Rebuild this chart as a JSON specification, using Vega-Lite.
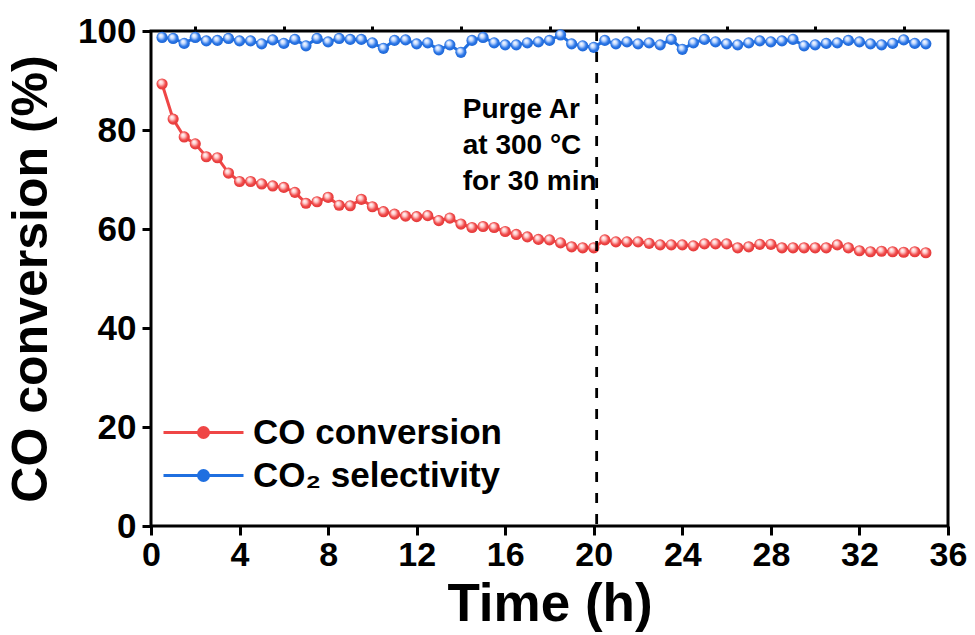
{
  "$schema": "https://vega.github.io/schema/vega-lite/v6.json",
  "width": 797,
  "height": 495,
  "autosize": "none",
  "padding": {"left": 151, "top": 31, "right": 27, "bottom": 109},
  "background": "white",
  "config": {
    "view": {"stroke": "black", "strokeWidth": 3},
    "font": "Liberation Sans"
  },
  "data": {"values": [
    {"t":0.5,"v":89.3,"s":"CO conversion"},{"t":1,"v":82.2,"s":"CO conversion"},{"t":1.5,"v":78.6,"s":"CO conversion"},{"t":2,"v":77.2,"s":"CO conversion"},{"t":2.5,"v":74.6,"s":"CO conversion"},{"t":3,"v":74.4,"s":"CO conversion"},{"t":3.5,"v":71.3,"s":"CO conversion"},{"t":4,"v":69.6,"s":"CO conversion"},{"t":4.5,"v":69.6,"s":"CO conversion"},{"t":5,"v":69.1,"s":"CO conversion"},
    {"t":5.5,"v":68.7,"s":"CO conversion"},{"t":6,"v":68.4,"s":"CO conversion"},{"t":6.5,"v":67.4,"s":"CO conversion"},{"t":7,"v":65.2,"s":"CO conversion"},{"t":7.5,"v":65.5,"s":"CO conversion"},{"t":8,"v":66.4,"s":"CO conversion"},{"t":8.5,"v":64.8,"s":"CO conversion"},{"t":9,"v":64.7,"s":"CO conversion"},{"t":9.5,"v":66.0,"s":"CO conversion"},{"t":10,"v":64.5,"s":"CO conversion"},
    {"t":10.5,"v":63.5,"s":"CO conversion"},{"t":11,"v":63.0,"s":"CO conversion"},{"t":11.5,"v":62.6,"s":"CO conversion"},{"t":12,"v":62.5,"s":"CO conversion"},{"t":12.5,"v":62.7,"s":"CO conversion"},{"t":13,"v":61.7,"s":"CO conversion"},{"t":13.5,"v":62.2,"s":"CO conversion"},{"t":14,"v":61.0,"s":"CO conversion"},{"t":14.5,"v":60.3,"s":"CO conversion"},{"t":15,"v":60.5,"s":"CO conversion"},
    {"t":15.5,"v":60.3,"s":"CO conversion"},{"t":16,"v":59.5,"s":"CO conversion"},{"t":16.5,"v":58.9,"s":"CO conversion"},{"t":17,"v":58.4,"s":"CO conversion"},{"t":17.5,"v":57.9,"s":"CO conversion"},{"t":18,"v":57.8,"s":"CO conversion"},{"t":18.5,"v":57.2,"s":"CO conversion"},{"t":19,"v":56.4,"s":"CO conversion"},{"t":19.5,"v":56.2,"s":"CO conversion"},{"t":20,"v":56.2,"s":"CO conversion"},
    {"t":20.5,"v":57.8,"s":"CO conversion"},{"t":21,"v":57.4,"s":"CO conversion"},{"t":21.5,"v":57.4,"s":"CO conversion"},{"t":22,"v":57.4,"s":"CO conversion"},{"t":22.5,"v":57.1,"s":"CO conversion"},{"t":23,"v":56.8,"s":"CO conversion"},{"t":23.5,"v":56.8,"s":"CO conversion"},{"t":24,"v":56.8,"s":"CO conversion"},{"t":24.5,"v":56.6,"s":"CO conversion"},{"t":25,"v":57.0,"s":"CO conversion"},
    {"t":25.5,"v":57.0,"s":"CO conversion"},{"t":26,"v":57.0,"s":"CO conversion"},{"t":26.5,"v":56.2,"s":"CO conversion"},{"t":27,"v":56.4,"s":"CO conversion"},{"t":27.5,"v":56.9,"s":"CO conversion"},{"t":28,"v":56.9,"s":"CO conversion"},{"t":28.5,"v":56.2,"s":"CO conversion"},{"t":29,"v":56.2,"s":"CO conversion"},{"t":29.5,"v":56.2,"s":"CO conversion"},{"t":30,"v":56.2,"s":"CO conversion"},
    {"t":30.5,"v":56.2,"s":"CO conversion"},{"t":31,"v":56.8,"s":"CO conversion"},{"t":31.5,"v":56.2,"s":"CO conversion"},{"t":32,"v":55.6,"s":"CO conversion"},{"t":32.5,"v":55.4,"s":"CO conversion"},{"t":33,"v":55.5,"s":"CO conversion"},{"t":33.5,"v":55.4,"s":"CO conversion"},{"t":34,"v":55.3,"s":"CO conversion"},{"t":34.5,"v":55.4,"s":"CO conversion"},{"t":35,"v":55.2,"s":"CO conversion"},
    {"t":0.5,"v":98.7,"s":"CO₂ selectivity"},{"t":1,"v":98.5,"s":"CO₂ selectivity"},{"t":1.5,"v":97.5,"s":"CO₂ selectivity"},{"t":2,"v":98.7,"s":"CO₂ selectivity"},{"t":2.5,"v":98.0,"s":"CO₂ selectivity"},{"t":3,"v":98.1,"s":"CO₂ selectivity"},{"t":3.5,"v":98.5,"s":"CO₂ selectivity"},{"t":4,"v":98.0,"s":"CO₂ selectivity"},{"t":4.5,"v":98.0,"s":"CO₂ selectivity"},{"t":5,"v":97.4,"s":"CO₂ selectivity"},
    {"t":5.5,"v":98.2,"s":"CO₂ selectivity"},{"t":6,"v":97.5,"s":"CO₂ selectivity"},{"t":6.5,"v":98.3,"s":"CO₂ selectivity"},{"t":7,"v":97.0,"s":"CO₂ selectivity"},{"t":7.5,"v":98.5,"s":"CO₂ selectivity"},{"t":8,"v":97.8,"s":"CO₂ selectivity"},{"t":8.5,"v":98.5,"s":"CO₂ selectivity"},{"t":9,"v":98.3,"s":"CO₂ selectivity"},{"t":9.5,"v":98.3,"s":"CO₂ selectivity"},{"t":10,"v":97.6,"s":"CO₂ selectivity"},
    {"t":10.5,"v":96.5,"s":"CO₂ selectivity"},{"t":11,"v":98.1,"s":"CO₂ selectivity"},{"t":11.5,"v":98.2,"s":"CO₂ selectivity"},{"t":12,"v":97.4,"s":"CO₂ selectivity"},{"t":12.5,"v":97.6,"s":"CO₂ selectivity"},{"t":13,"v":96.2,"s":"CO₂ selectivity"},{"t":13.5,"v":97.2,"s":"CO₂ selectivity"},{"t":14,"v":95.7,"s":"CO₂ selectivity"},{"t":14.5,"v":98.1,"s":"CO₂ selectivity"},{"t":15,"v":98.7,"s":"CO₂ selectivity"},
    {"t":15.5,"v":97.6,"s":"CO₂ selectivity"},{"t":16,"v":97.2,"s":"CO₂ selectivity"},{"t":16.5,"v":97.2,"s":"CO₂ selectivity"},{"t":17,"v":97.6,"s":"CO₂ selectivity"},{"t":17.5,"v":97.8,"s":"CO₂ selectivity"},{"t":18,"v":98.1,"s":"CO₂ selectivity"},{"t":18.5,"v":99.2,"s":"CO₂ selectivity"},{"t":19,"v":97.4,"s":"CO₂ selectivity"},{"t":19.5,"v":97.0,"s":"CO₂ selectivity"},{"t":20,"v":96.7,"s":"CO₂ selectivity"},
    {"t":20.5,"v":98.1,"s":"CO₂ selectivity"},{"t":21,"v":97.4,"s":"CO₂ selectivity"},{"t":21.5,"v":97.8,"s":"CO₂ selectivity"},{"t":22,"v":97.4,"s":"CO₂ selectivity"},{"t":22.5,"v":97.6,"s":"CO₂ selectivity"},{"t":23,"v":97.2,"s":"CO₂ selectivity"},{"t":23.5,"v":98.3,"s":"CO₂ selectivity"},{"t":24,"v":96.3,"s":"CO₂ selectivity"},{"t":24.5,"v":97.6,"s":"CO₂ selectivity"},{"t":25,"v":98.3,"s":"CO₂ selectivity"},
    {"t":25.5,"v":97.8,"s":"CO₂ selectivity"},{"t":26,"v":97.4,"s":"CO₂ selectivity"},{"t":26.5,"v":97.2,"s":"CO₂ selectivity"},{"t":27,"v":97.6,"s":"CO₂ selectivity"},{"t":27.5,"v":98.0,"s":"CO₂ selectivity"},{"t":28,"v":97.8,"s":"CO₂ selectivity"},{"t":28.5,"v":98.0,"s":"CO₂ selectivity"},{"t":29,"v":98.3,"s":"CO₂ selectivity"},{"t":29.5,"v":97.0,"s":"CO₂ selectivity"},{"t":30,"v":97.2,"s":"CO₂ selectivity"},
    {"t":30.5,"v":97.5,"s":"CO₂ selectivity"},{"t":31,"v":97.6,"s":"CO₂ selectivity"},{"t":31.5,"v":98.1,"s":"CO₂ selectivity"},{"t":32,"v":97.8,"s":"CO₂ selectivity"},{"t":32.5,"v":97.4,"s":"CO₂ selectivity"},{"t":33,"v":97.2,"s":"CO₂ selectivity"},{"t":33.5,"v":97.5,"s":"CO₂ selectivity"},{"t":34,"v":98.2,"s":"CO₂ selectivity"},{"t":34.5,"v":97.5,"s":"CO₂ selectivity"},{"t":35,"v":97.4,"s":"CO₂ selectivity"}
  ]},
  "layer": [
    {
      "mark": {"type": "line", "strokeWidth": 3},
      "encoding": {
        "x": {"field": "t", "type": "quantitative", "scale": {"domain": [0, 36], "nice": false, "zero": false},
          "axis": {"values": [0,4,8,12,16,20,24,28,32,36], "title": "Time (h)", "grid": false, "domain": false,
            "tickSize": 9, "tickWidth": 3, "tickColor": "black", "labelFont": "Liberation Sans", "labelFontSize": 34, "labelFontWeight": "bold", "labelColor": "black", "labelPadding": 3,
            "titleFont": "Liberation Sans", "titleFontSize": 53, "titleFontWeight": "bold", "titleColor": "black", "titlePadding": 6, "labelFlush": false}},
        "y": {"field": "v", "type": "quantitative", "scale": {"domain": [0, 100], "nice": false},
          "axis": {"values": [0,20,40,60,80,100], "title": "CO conversion (%)", "grid": false, "domain": false,
            "tickSize": 9, "tickWidth": 3, "tickColor": "black", "labelFont": "Liberation Sans", "labelFontSize": 35, "labelFontWeight": "bold", "labelColor": "black", "labelPadding": 6,
            "titleFont": "Liberation Sans", "titleFontSize": 50, "titleFontWeight": "bold", "titleColor": "black", "titlePadding": 21, "labelFlush": false}},
        "color": {"field": "s", "type": "nominal",
          "scale": {"domain": ["CO conversion", "CO₂ selectivity"], "range": ["#ef4646", "#1f6fe0"]},
          "legend": {"title": null, "orient": "none", "legendX": 31, "legendY": 380, "padding": 0,
            "symbolType": "M-2,0L2,0M0.25,0A0.25,0.25,0,1,1,-0.25,0A0.25,0.25,0,1,1,0.25,0Z",
            "symbolSize": 1600, "symbolStrokeWidth": 3, "labelFont": "Liberation Sans", "labelFontSize": 35, "labelFontWeight": "bold", "labelColor": "black", "labelOffset": 28, "labelLimit": 0, "rowPadding": 3,
            "encode": {"symbols": {"update": {"fill": {"scale": "color", "field": "value"}, "fillOpacity": {"value": 1}}}}}}
      }
    },
    {
      "transform": [{"filter": "datum.s == 'CO conversion'"}],
      "mark": {"type": "point", "filled": true, "size": 125, "strokeWidth": 0, "opacity": 1,
        "fill": {"gradient": "radial", "x1": 0.36, "y1": 0.3, "r1": 0, "x2": 0.5, "y2": 0.5, "r2": 0.6,
          "stops": [{"offset": 0, "color": "#ffffff"}, {"offset": 0.3, "color": "#ffcaca"}, {"offset": 0.62, "color": "#f04848"}, {"offset": 1, "color": "#dc3030"}]}},
      "encoding": {
        "x": {"field": "t", "type": "quantitative",
          "axis": {"values": [2,6,10,14,18,22,26,30,34], "labels": false, "title": null, "grid": false, "domain": false, "tickSize": 5, "tickWidth": 3, "tickColor": "black"}},
        "y": {"field": "v", "type": "quantitative"}
      }
    },
    {
      "transform": [{"filter": "datum.s != 'CO conversion'"}],
      "mark": {"type": "point", "filled": true, "size": 125, "strokeWidth": 0, "opacity": 1,
        "fill": {"gradient": "radial", "x1": 0.36, "y1": 0.3, "r1": 0, "x2": 0.5, "y2": 0.5, "r2": 0.6,
          "stops": [{"offset": 0, "color": "#ffffff"}, {"offset": 0.3, "color": "#c4daff"}, {"offset": 0.62, "color": "#2a76e8"}, {"offset": 1, "color": "#195fca"}]}},
      "encoding": {
        "x": {"field": "t", "type": "quantitative", "axis": null},
        "y": {"field": "v", "type": "quantitative"}
      }
    },
    {
      "data": {"values": [{}]},
      "mark": {"type": "rule", "color": "black", "strokeWidth": 2.8, "strokeDash": [10, 11]},
      "encoding": {"x": {"datum": 20.13, "type": "quantitative", "axis": null}}
    },
    {
      "data": {"values": [{}]},
      "mark": {"type": "text", "text": ["Purge Ar", "at 300 °C", "for 30 min"], "align": "left", "baseline": "alphabetic", "lineHeight": 36,
        "font": "Liberation Sans", "fontSize": 28, "fontWeight": "bold", "color": "black"},
      "encoding": {
        "x": {"datum": 14.08, "type": "quantitative", "axis": null},
        "y": {"datum": 82.4, "type": "quantitative"}
      }
    }
  ],
  "resolve": {"axis": {"x": "independent"}}
}
